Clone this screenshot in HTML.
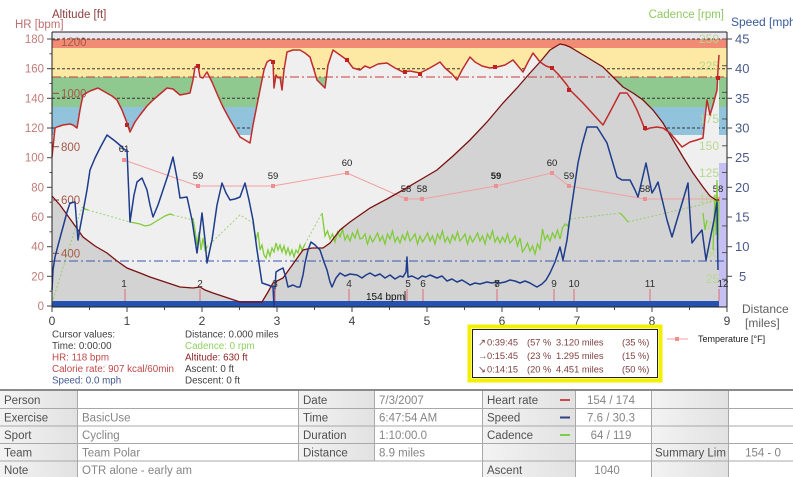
<!DOCTYPE html>
<html><head><meta charset="utf-8"><style>
html,body{margin:0;padding:0;background:#fff;}
svg{display:block;font-family:"Liberation Sans",Arial,sans-serif;}
</style></head><body>
<svg width="793" height="477" viewBox="0 0 793 477" xmlns="http://www.w3.org/2000/svg">
<defs>
<linearGradient id="cg" x1="0" y1="0" x2="1" y2="0"><stop offset="0" stop-color="#f3f3f3"/><stop offset="1" stop-color="#e2e2e2"/></linearGradient>
</defs>
<rect x="0" y="0" width="793" height="477" fill="#fff"/>

<!-- zone bands -->
<rect x="52" y="32" width="675" height="7" fill="#ebe7ef"/>
<rect x="52" y="39" width="675" height="9" fill="#f28b74"/>
<rect x="52" y="48" width="675" height="29" fill="#fde8a4"/>
<rect x="52" y="77" width="675" height="30" fill="#8fc98f"/>
<rect x="52" y="107" width="675" height="28" fill="#92c3dc"/>
<rect x="52" y="135" width="675" height="172" fill="#efefef"/>

<!-- grid dashed -->
<g stroke="#333" stroke-width="1" stroke-dasharray="3,2" fill="none">
<line x1="52" y1="39" x2="727" y2="39"/>
<line x1="52" y1="68.7" x2="727" y2="68.7"/>
<line x1="52" y1="98.3" x2="727" y2="98.3"/>
<line x1="52" y1="128" x2="727" y2="128"/>
</g>

<!-- HR fill -->
<polygon fill="#efefef" points="52,157 55,128 57,127 63,125 70,124 73,125 77,128 80,110 83,95 90,91 98,88 105,92 112,96 117,100 122,110 127,123 130,132 135,122 140,115 147,106 153,100 160,94 167,88 173,89 180,95 185,94 190,93 193,80 195,67 198,66 200,77 203,78 207,72 212,82 218,96 223,107 230,120 240,137 245,140 250,143 253,125 257,105 260,90 264,70 267,62 270,60 273,61 274,88 276,75 278,78 280,77 282,90 284,70 287,52 293,50 300,50 305,53 310,57 314,70 317,80 322,85 325,88 328,65 333,50 340,55 347,60 353,68 360,70 365,66 370,68 378,64 387,63 395,68 403,72 410,71 420,73 428,69 435,65 440,62 445,68 452,74 457,80 462,70 470,57 475,62 482,66 490,68 497,67 505,65 513,60 518,66 523,72 528,62 533,53 540,62 546,66 552,68 558,74 563,80 567,85 570,90 577,97 583,103 593,114 603,125 610,112 620,93 627,93 632,100 637,110 642,122 645,130 650,128 657,127 663,128 670,133 676,140 682,147 690,142 697,140 703,138 705,118 707,100 710,115 713,105 717,90 718,70 719,55 719,307 52,307"/>

<!-- altitude fill -->
<polygon fill="#d3d3d3" points="52,196 60,205 73,223 83,237 95,246 107,253 117,261 127,268 140,273 150,277 165,282 180,287 193,288 200,287 205,290 213,293 225,297 240,302 255,302 262,302 268,292 273,283 283,278 293,264 303,250 312,248 323,248 330,243 340,230 350,222 360,215 370,208 387,199 403,190 420,180 437,170 453,156 470,140 487,122 503,103 517,88 530,73 540,62 550,50 560,44 565,45 570,47 585,56 603,67 613,77 623,87 633,93 643,100 653,110 663,123 673,140 683,157 693,173 703,187 710,196 716,200 719,200 719,307 52,307"/>

<rect x="719" y="163" width="8" height="144" fill="#c6bff2"/>
<rect x="52" y="301" width="667" height="6" fill="#2452b0"/>

<!-- limit lines -->
<line x1="52" y1="77" x2="727" y2="77" stroke="#c83838" stroke-width="1" stroke-dasharray="9,3,2,3"/>
<line x1="52" y1="261" x2="727" y2="261" stroke="#3858a8" stroke-width="1" stroke-dasharray="9,3,2,3"/>

<!-- cadence labels -->
<g font-size="12" fill="#b8d890" text-anchor="end">
<text x="719" y="43">250</text>
<text x="719" y="70">225</text>
<text x="719" y="123">175</text>
<text x="719" y="150">150</text>
<text x="719" y="177">125</text>
<text x="719" y="203">100</text>
<text x="719" y="230">75</text>
<text x="719" y="257">50</text>
<text x="719" y="283">25</text>
</g>
<g stroke="#555" stroke-width="1">
<line x1="722" y1="39" x2="727" y2="39"/><line x1="722" y1="65.7" x2="727" y2="65.7"/><line x1="722" y1="92.4" x2="727" y2="92.4"/><line x1="722" y1="119" x2="727" y2="119"/><line x1="722" y1="145.8" x2="727" y2="145.8"/><line x1="722" y1="172.5" x2="727" y2="172.5"/><line x1="722" y1="199" x2="727" y2="199"/><line x1="722" y1="225.9" x2="727" y2="225.9"/><line x1="722" y1="252.6" x2="727" y2="252.6"/><line x1="722" y1="279.3" x2="727" y2="279.3"/>
</g>

<!-- altitude labels -->
<g stroke="#8a4a40" stroke-width="1">
<line x1="53" y1="40" x2="59" y2="40"/><line x1="53" y1="93.3" x2="59" y2="93.3"/><line x1="53" y1="146.7" x2="59" y2="146.7"/><line x1="53" y1="200" x2="59" y2="200"/><line x1="53" y1="253.3" x2="59" y2="253.3"/>
</g>
<g font-size="11.5" fill="#a45a48">
<text x="61" y="46">1200</text>
<text x="61" y="97.5">1000</text>
<text x="61" y="151">800</text>
<text x="61" y="204">600</text>
<text x="61" y="257.5">400</text>
</g>

<!-- temperature -->
<polyline fill="none" stroke="#f0a0a0" stroke-width="1" points="124,160 198,186 273,186 347,173 406,199 422,199 496,186 552,173 569,186 645,199 718,199"/>
<g fill="#ee9090">
<rect x="122" y="158" width="4" height="4"/><rect x="196" y="184" width="4" height="4"/><rect x="271" y="184" width="4" height="4"/><rect x="345" y="171" width="4" height="4"/><rect x="404" y="197" width="4" height="4"/><rect x="420" y="197" width="4" height="4"/><rect x="494" y="184" width="4" height="4"/><rect x="550" y="171" width="4" height="4"/><rect x="567" y="184" width="4" height="4"/><rect x="643" y="197" width="4" height="4"/><rect x="716" y="197" width="4" height="4"/>
</g>
<g font-size="9.5" fill="#202020" text-anchor="middle">
<text x="124" y="152">61</text><text x="198" y="179">59</text><text x="273" y="179">59</text><text x="347" y="166">60</text><text x="406" y="192">58</text><text x="422" y="192">58</text><text x="496" y="179" font-weight="bold">59</text><text x="552" y="166">60</text><text x="569" y="179">59</text><text x="645" y="192">58</text><text x="718" y="192">58</text>
</g>

<!-- cadence line -->
<g fill="none" stroke="#8ccc50" stroke-width="1" stroke-dasharray="2,2" opacity="0.8">
<polyline points="52,303 82,207"/>
<polyline points="88,210 130,222"/>
<polyline points="173,215 193,220"/>
<polyline points="207,247 240,215 253,223"/>
<polyline points="305,244 322,213"/>
<polyline points="570,219 620,213"/>
<polyline points="628,222 700,205 716,200"/>
</g>
<g fill="none" stroke="#80cc38" stroke-width="1.3">
<polyline points="82,207 85,209 88,210"/>
<polyline points="130,222 135,223 140,224 145,226 150,225 155,222 160,219 165,216 170,214 173,215"/>
<polyline points="193,218 195,230 197,245 199,232 201,250 203,238 205,250 207,247"/>
<polyline points="253,223 256,240 258,232 260,250 262,245 264,255 266,258 268,250 270,256 272,248 274,252 276,243 278,250 280,245 282,252 284,246 286,254 288,248 290,255 292,250 294,257 296,250 298,253 300,245 302,250 305,244"/>
<polyline points="322,213 325,236 327.5,231 330,239 332.5,234 335,242 337.5,232 340,237 342.5,229 345,240 347.5,235 350,241 352.5,233 355,238 357.5,230 360,239 362.5,238 365,234 367.5,244 370,236 372.5,242 375,238 377.5,233 380,241 382.5,236 385,244 387.5,234 390,239 392.5,231 395,242 397.5,237 400,243 402.5,235 405,240 407.5,232 410,241 412.5,238 415,234 417.5,244 420,236 422.5,242 425,238 427.5,233 430,241 432.5,236 435,244 437.5,234 440,239 442.5,231 445,242 447.5,237 450,243 452.5,235 455,240 457.5,232 460,241 462.5,238 465,234 467.5,244 470,236 472.5,242 475,238 477.5,233 480,241 482.5,236 485,244 487.5,234 490,239 492.5,231 495,242 497.5,237 500,243 502.5,237 505,242 507.5,234 510,243 512.5,240 515,236 517.5,246 520,238 522.5,252 525,248 527.5,243 530,251 532.5,246 535,254 537.5,244 540,249 542.5,229 545,240 547.5,235 550,241 552.5,233 555,238 557.5,230 560,239 562.5,228 565,224 567.5,226 570,219"/>
<polyline points="620,213 624,217 628,222"/>
<polyline points="703,213 705,230 707,220"/>
<polyline points="713,250 715,195 716,235 717,180 718,240 719,200"/>
</g>

<!-- altitude line -->
<polyline fill="none" stroke="#7a1010" stroke-width="1.3" points="52,196 60,205 73,223 83,237 95,246 107,253 117,261 127,268 140,273 150,277 165,282 180,287 193,288 200,287 205,290 213,293 225,297 240,302 255,302 262,302 268,292 273,283 283,278 293,264 303,250 312,248 323,248 330,243 340,230 350,222 360,215 370,208 387,199 403,190 420,180 437,170 453,156 470,140 487,122 503,103 517,88 530,73 540,62 550,50 560,44 565,45 570,47 585,56 603,67 613,77 623,87 633,93 643,100 653,110 663,123 673,140 683,157 693,173 703,187 710,196 716,200 719,200"/>

<!-- speed line -->
<polyline fill="none" stroke="#1e3c8c" stroke-width="1.5" stroke-linejoin="round" points="52,290 53,270 55,257 60,238 63,227 67,212 70,203 75,202 78,240 80,228 83,212 87,190 90,170 95,158 100,148 107,135 115,141 122,147 125,150 127,150 130,222 134,195 137,182 142,178 147,190 150,205 153,217 158,205 163,190 168,175 173,157 177,178 180,198 187,197 192,220 197,253 200,230 202,213 205,240 207,263 212,240 217,205 222,183 226,193 230,200 235,199 240,197 245,183 249,200 253,220 257,250 262,283 268,285 273,287 274,307 275,287 276,272 279,270 283,268 286,278 288,287 293,285 297,287 300,287 303,275 305,263 308,250 311,242 315,245 320,250 324,262 327,270 330,282 332,287 336,278 340,273 345,276 350,274 357,275 362,278 366,275 370,273 375,276 380,274 385,278 390,275 395,279 400,276 403,277 406,272 407,257 408,277 412,276 418,279 422,276 426,277 430,275 437,278 442,276 447,281 452,279 457,282 462,280 467,283 470,285 475,283 480,284 487,282 492,283 496,282 500,283 505,282 510,280 515,281 520,283 525,281 530,283 535,286 537,287 542,284 546,280 550,273 555,262 560,247 563,260 567,240 570,217 574,190 578,163 582,145 587,127 597,127 602,135 607,143 612,160 617,177 622,180 630,180 635,190 638,197 642,180 646,163 649,178 652,193 655,188 658,182 661,195 663,203 667,220 672,237 677,220 683,200 688,183 690,215 692,243 697,236 702,230 704,245 706,260 710,240 714,220 717,202 718,270"/>

<!-- HR line -->
<polyline fill="none" stroke="#c02c2c" stroke-width="1.5" stroke-linejoin="round" points="52,157 55,128 57,127 63,125 70,124 73,125 77,128 80,110 83,95 90,91 98,88 105,92 112,96 117,100 122,110 127,123 130,132 135,122 140,115 147,106 153,100 160,94 167,88 173,89 180,95 185,94 190,93 193,80 195,67 198,66 200,77 203,78 207,72 212,82 218,96 223,107 230,120 240,137 245,140 250,143 253,125 257,105 260,90 264,70 267,62 270,60 273,61 274,88 276,75 278,78 280,77 282,90 284,70 287,52 293,50 300,50 305,53 310,57 314,70 317,80 322,85 325,88 328,65 333,50 340,55 347,60 353,68 360,70 365,66 370,68 378,64 387,63 395,68 403,72 410,71 420,73 428,69 435,65 440,62 445,68 452,74 457,80 462,70 470,57 475,62 482,66 490,68 497,67 505,65 513,60 518,66 523,72 528,62 533,53 540,62 546,66 552,68 558,74 563,80 567,85 570,90 577,97 583,103 593,114 603,125 610,112 620,93 627,93 632,100 637,110 642,122 645,130 650,128 657,127 663,128 670,133 676,140 682,147 690,142 697,140 703,138 705,118 707,100 710,115 713,105 717,90 718,70 719,55"/>
<g fill="#c02020">
<rect x="125" y="123" width="4" height="4"/><rect x="196" y="64" width="4" height="4"/><rect x="271" y="60" width="4" height="4"/><rect x="345" y="58" width="4" height="4"/><rect x="403" y="70" width="4" height="4"/><rect x="418" y="72" width="4" height="4"/><rect x="493" y="65" width="4" height="4"/><rect x="550" y="66" width="4" height="4"/><rect x="567" y="88" width="4" height="4"/><rect x="643" y="126" width="4" height="4"/><rect x="716" y="76" width="4" height="4"/>
</g>

<!-- laps -->
<g stroke="#e06878" stroke-width="1">
<line x1="125" y1="289" x2="125" y2="301"/><line x1="200" y1="289" x2="200" y2="301"/><line x1="275" y1="289" x2="275" y2="301"/><line x1="349" y1="289" x2="349" y2="301"/><line x1="407" y1="289" x2="407" y2="301"/><line x1="423" y1="289" x2="423" y2="301"/><line x1="497" y1="289" x2="497" y2="301"/><line x1="554" y1="289" x2="554" y2="301"/><line x1="574" y1="289" x2="574" y2="301"/><line x1="650" y1="289" x2="650" y2="301"/><line x1="719" y1="289" x2="719" y2="301"/>
</g>
<g font-size="10" fill="#303030" text-anchor="middle">
<text x="124" y="287">1</text><text x="200" y="287">2</text><text x="275" y="287">3</text><text x="349" y="287">4</text><text x="408" y="287">5</text><text x="423" y="287">6</text><text x="497" y="287">7</text><text x="497" y="287">8</text><text x="554" y="287">9</text><text x="574" y="287">10</text><text x="650" y="287">11</text><text x="723" y="287">12</text>
</g>
<text x="366" y="300" font-size="10" fill="#111">154 bpm</text>
<line x1="405" y1="291" x2="405" y2="301" stroke="#333" stroke-width="1"/>

<!-- axes -->
<g stroke="#222" stroke-width="1" fill="none">
<line x1="52" y1="32" x2="727" y2="32"/>
<line x1="52" y1="32" x2="52" y2="307"/>
<line x1="727" y1="32" x2="727" y2="307"/>
<line x1="52" y1="307" x2="727" y2="307"/>
</g>
<g stroke="#444" stroke-width="1">
<line x1="47" y1="39" x2="52" y2="39"/><line x1="47" y1="68.7" x2="52" y2="68.7"/><line x1="47" y1="98.3" x2="52" y2="98.3"/><line x1="47" y1="128" x2="52" y2="128"/><line x1="47" y1="157.7" x2="52" y2="157.7"/><line x1="47" y1="187.3" x2="52" y2="187.3"/><line x1="47" y1="217" x2="52" y2="217"/><line x1="47" y1="246.7" x2="52" y2="246.7"/><line x1="47" y1="276.3" x2="52" y2="276.3"/><line x1="47" y1="306" x2="52" y2="306"/>
<line x1="49.5" y1="53.8" x2="52" y2="53.8"/><line x1="49.5" y1="83.5" x2="52" y2="83.5"/><line x1="49.5" y1="113.2" x2="52" y2="113.2"/><line x1="49.5" y1="142.8" x2="52" y2="142.8"/><line x1="49.5" y1="172.5" x2="52" y2="172.5"/><line x1="49.5" y1="202.2" x2="52" y2="202.2"/><line x1="49.5" y1="231.8" x2="52" y2="231.8"/><line x1="49.5" y1="261.5" x2="52" y2="261.5"/><line x1="49.5" y1="291.2" x2="52" y2="291.2"/>
<line x1="727" y1="39" x2="732" y2="39"/><line x1="727" y1="68.7" x2="732" y2="68.7"/><line x1="727" y1="98.3" x2="732" y2="98.3"/><line x1="727" y1="128" x2="732" y2="128"/><line x1="727" y1="157.7" x2="732" y2="157.7"/><line x1="727" y1="187.3" x2="732" y2="187.3"/><line x1="727" y1="217" x2="732" y2="217"/><line x1="727" y1="246.7" x2="732" y2="246.7"/><line x1="727" y1="276.3" x2="732" y2="276.3"/>
<line x1="52" y1="307" x2="52" y2="312"/><line x1="127" y1="307" x2="127" y2="312"/><line x1="202" y1="307" x2="202" y2="312"/><line x1="277" y1="307" x2="277" y2="312"/><line x1="352" y1="307" x2="352" y2="312"/><line x1="427" y1="307" x2="427" y2="312"/><line x1="502" y1="307" x2="502" y2="312"/><line x1="577" y1="307" x2="577" y2="312"/><line x1="652" y1="307" x2="652" y2="312"/><line x1="727" y1="307" x2="727" y2="312"/>
<line x1="89.5" y1="307" x2="89.5" y2="310"/><line x1="164.5" y1="307" x2="164.5" y2="310"/><line x1="239.5" y1="307" x2="239.5" y2="310"/><line x1="314.5" y1="307" x2="314.5" y2="310"/><line x1="389.5" y1="307" x2="389.5" y2="310"/><line x1="464.5" y1="307" x2="464.5" y2="310"/><line x1="539.5" y1="307" x2="539.5" y2="310"/><line x1="614.5" y1="307" x2="614.5" y2="310"/><line x1="689.5" y1="307" x2="689.5" y2="310"/>
</g>
<g font-size="11.5" fill="#c07c78" text-anchor="end">
<text x="44" y="43">180</text><text x="44" y="72.7">160</text><text x="44" y="102.3">140</text><text x="44" y="132">120</text><text x="44" y="161.7">100</text><text x="44" y="191.3">80</text><text x="44" y="221">60</text><text x="44" y="250.7">40</text><text x="44" y="280.3">20</text><text x="44" y="310">0</text>
</g>
<g font-size="13" fill="#4a5a8a">
<text x="735" y="43.5">45</text><text x="735" y="73.2">40</text><text x="735" y="102.8">35</text><text x="735" y="132.5">30</text><text x="735" y="162.2">25</text><text x="735" y="191.8">20</text><text x="735" y="221.5">15</text><text x="735" y="251.2">10</text><text x="739" y="280.8">5</text>
</g>
<g font-size="12" fill="#404040" text-anchor="middle">
<text x="52" y="325">0</text><text x="127" y="325">1</text><text x="202" y="325">2</text><text x="277" y="325">3</text><text x="352" y="325">4</text><text x="427" y="325">5</text><text x="502" y="325">6</text><text x="577" y="325">7</text><text x="652" y="325">8</text><text x="727" y="325">9</text>
</g>
<text x="742" y="313" font-size="12" fill="#606060">Distance</text>
<text x="745" y="327" font-size="12" fill="#606060">[miles]</text>

<text x="52" y="18" font-size="11.5" fill="#8b4040">Altitude [ft]</text>
<text x="15" y="28" font-size="11.5" fill="#c07070">HR [bpm]</text>
<text x="724" y="18" font-size="11.5" fill="#90c860" text-anchor="end">Cadence [rpm]</text>
<text x="731" y="26" font-size="12" fill="#3a5a9a">Speed [mph]</text>

<!-- cursor values -->
<g font-size="9.8">
<text x="52" y="337.5" fill="#404040">Cursor values:</text>
<text x="52" y="349" fill="#404040">Time: 0:00:00</text>
<text x="52" y="360.5" fill="#c04848">HR: 118 bpm</text>
<text x="52" y="372" fill="#c04848">Calorie rate: 907 kcal/60min</text>
<text x="52" y="383.5" fill="#405890">Speed: 0.0 mph</text>
<text x="185" y="337.5" fill="#404040">Distance: 0.000 miles</text>
<text x="185" y="349" fill="#90d060">Cadence: 0 rpm</text>
<text x="185" y="360.5" fill="#902828">Altitude: 630 ft</text>
<text x="185" y="372" fill="#404040">Ascent: 0 ft</text>
<text x="185" y="383.5" fill="#404040">Descent: 0 ft</text>
</g>

<!-- yellow box -->
<rect x="469.5" y="326.5" width="191" height="54" fill="#fff" stroke="#f2f000" stroke-width="4"/>
<rect x="472.5" y="329.5" width="185" height="48" fill="#fff" stroke="#222" stroke-width="1"/>
<g font-size="9.3" fill="#804040">
<text x="478" y="345.5">↗</text><text x="487" y="345.5">0:39:45</text><text x="527" y="345.5">(57 %</text><text x="556" y="345.5">3.120 miles</text><text x="622" y="345.5">(35 %)</text>
<text x="478" y="359">→</text><text x="487" y="359">0:15:45</text><text x="527" y="359">(23 %</text><text x="556" y="359">1.295 miles</text><text x="622" y="359">(15 %)</text>
<text x="478" y="372.5">↘</text><text x="487" y="372.5">0:14:15</text><text x="527" y="372.5">(20 %</text><text x="556" y="372.5">4.451 miles</text><text x="622" y="372.5">(50 %)</text>
</g>
<line x1="667" y1="339" x2="688" y2="339" stroke="#f0a0a0" stroke-width="1"/>
<rect x="675" y="337" width="4" height="4" fill="#ee9090"/>
<text x="698" y="342" font-size="9" fill="#202020">Temperature [°F]</text>

<!-- table -->
<rect x="0" y="389" width="793" height="2" fill="#8a8a8a"/>
<g fill="url(#cg)">
<rect x="0" y="391" width="77" height="88"/>
<rect x="298" y="391" width="76" height="70"/>
<rect x="482" y="391" width="93" height="88"/>
<rect x="651" y="391" width="77" height="88"/>
</g>
<g stroke="#a8a8a8" stroke-width="1">
<line x1="0" y1="408.5" x2="793" y2="408.5"/>
<line x1="0" y1="426" x2="793" y2="426"/>
<line x1="0" y1="443.5" x2="793" y2="443.5"/>
<line x1="0" y1="461" x2="793" y2="461"/>
<line x1="77.5" y1="391" x2="77.5" y2="477"/>
<line x1="298.5" y1="391" x2="298.5" y2="461"/>
<line x1="374.5" y1="391" x2="374.5" y2="461"/>
<line x1="482.5" y1="391" x2="482.5" y2="477"/>
<line x1="575.5" y1="391" x2="575.5" y2="477"/>
<line x1="651.5" y1="391" x2="651.5" y2="477"/>
<line x1="728.5" y1="391" x2="728.5" y2="477"/>
</g>
<g font-size="11.5" fill="#505050">
<text x="4" y="404">Person</text>
<text x="4" y="421.5">Exercise</text>
<text x="4" y="439">Sport</text>
<text x="4" y="456.5">Team</text>
<text x="4" y="474">Note</text>
<text x="303" y="404">Date</text>
<text x="303" y="421.5">Time</text>
<text x="303" y="439">Duration</text>
<text x="303" y="456.5">Distance</text>
<text x="487" y="404">Heart rate</text>
<text x="487" y="421.5">Speed</text>
<text x="487" y="439">Cadence</text>
<text x="487" y="474">Ascent</text>
<text x="655" y="456.5">Summary Lim</text>
</g>
<g font-size="11.5" fill="#858585">
<text x="82" y="421.5">BasicUse</text>
<text x="82" y="439">Cycling</text>
<text x="82" y="456.5">Team Polar</text>
<text x="82" y="474">OTR alone - early am</text>
<text x="379" y="404">7/3/2007</text>
<text x="379" y="421.5">6:47:54 AM</text>
<text x="379" y="439">1:10:00.0</text>
<text x="379" y="456.5">8.9 miles</text>
<text x="611" y="404" text-anchor="middle">154 / 174</text>
<text x="611" y="421.5" text-anchor="middle">7.6 / 30.3</text>
<text x="611" y="439" text-anchor="middle">64 / 119</text>
<text x="607" y="474" text-anchor="middle">1040</text>
<text x="763" y="456.5" text-anchor="middle">154 - 0</text>
</g>
<line x1="560" y1="400" x2="570" y2="400" stroke="#d04848" stroke-width="2"/>
<line x1="560" y1="417.5" x2="570" y2="417.5" stroke="#304080" stroke-width="2"/>
<line x1="560" y1="435" x2="570" y2="435" stroke="#78d048" stroke-width="2"/>
</svg>
</body></html>
